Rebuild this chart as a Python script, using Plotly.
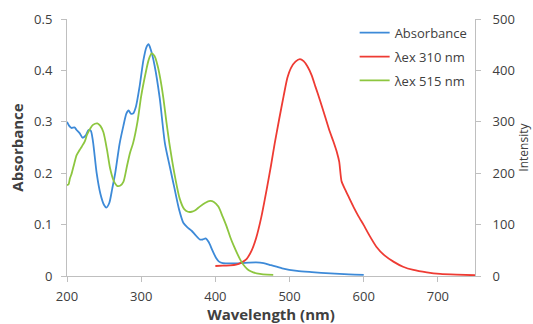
import plotly.graph_objects as go

# Absorbance (left axis)
abs_nm = [200, 203, 206, 210, 213, 217, 221, 225, 229, 232, 235, 240, 245, 250, 253, 257, 261, 265,
          271, 276, 280, 283, 286, 289, 293, 298, 303, 307, 310, 313, 318, 325, 332, 339, 345, 351,
          357, 362, 368, 373, 379, 383, 387, 391, 396, 401, 405, 410, 415, 425, 435, 445, 455, 465,
          475, 490, 510, 530, 555, 580, 600]
abs_val = [0.300, 0.292, 0.288, 0.289, 0.284, 0.278, 0.269, 0.273, 0.284, 0.283, 0.262, 0.200,
           0.160, 0.138, 0.133, 0.142, 0.170, 0.200, 0.258, 0.292, 0.316, 0.322, 0.316, 0.316,
           0.330, 0.370, 0.420, 0.445, 0.451, 0.440, 0.410, 0.346, 0.258, 0.210, 0.170, 0.130,
           0.103, 0.095, 0.088, 0.080, 0.071, 0.071, 0.073, 0.066, 0.050, 0.035, 0.028, 0.025,
           0.0245, 0.0245, 0.025, 0.026, 0.0265, 0.025, 0.021, 0.015, 0.010, 0.0075, 0.005,
           0.003, 0.002]

# Emission, λex 310 nm (right axis)
em310_nm = [400, 410, 420, 428, 435, 442, 449, 455, 462, 469, 475, 480, 486, 492, 497, 502, 508,
            514, 519, 524, 530, 535, 541, 548, 554, 559, 564, 567, 570, 575, 580, 586, 593, 600,
            608, 617, 628, 640, 653, 667, 685, 703, 725, 750]
em310_val = [19.5, 20, 20.5, 22, 26, 33, 50, 74, 115, 167, 215, 258, 305, 350, 385, 405, 417,
             422, 418, 408, 390, 368, 342, 310, 282, 262, 240, 222, 185, 168, 153, 135, 116, 99,
             78, 57, 40, 28, 18, 11.7, 7, 4, 2.5, 1.5]

# Emission, λex 515 nm (right axis)
em515_nm = [200, 202, 204, 206, 210, 213, 217, 220, 224, 227, 231, 235, 241, 245, 249, 254, 258,
            263, 268, 272, 276, 281, 285, 289, 295, 300, 306, 310, 314, 318, 322, 326, 330, 334,
            338, 342, 346, 352, 358, 363, 368, 373, 379, 386, 393, 398, 404, 410, 415, 420, 425,
            430, 435, 440, 445, 451, 460, 470, 478]
em515_val = [177, 178, 190, 198, 220, 235, 245, 252, 262, 275, 286, 294, 297, 292, 280, 245, 210,
             185, 175, 176, 183, 215, 240, 258, 300, 350, 395, 420, 433, 428, 410, 382, 345, 300,
             258, 222, 190, 150, 130, 125, 125, 128, 135, 142, 146, 144, 135, 115, 97, 76, 58,
             42, 28, 18, 11, 7, 4, 2.5, 2]

x_ticks = [200, 300, 400, 500, 600, 700]
y_ticks = [0, 0.1, 0.2, 0.3, 0.4, 0.5]
y2_ticks = [0, 100, 200, 300, 400, 500]
y_tick_text = ["0", "0.1", "0.2", "0.3", "0.4", "0.5"]

BLUE = "#3d8ad8"
RED = "#ee3b33"
GREEN = "#8dc63f"
FONT = "Open Sans"
TXT = "#404040"
AX = "#bfbfbf"

fig = go.Figure()
fig.add_trace(go.Scatter(x=abs_nm, y=abs_val, name="Absorbance", mode="lines",
                         line=dict(color=BLUE, width=1.8, shape="spline", smoothing=0.7),
                         legendgroup="a"))
fig.add_trace(go.Scatter(x=em310_nm, y=em310_val, name="λex 310 nm", mode="lines", yaxis="y2",
                         line=dict(color=RED, width=1.8, shape="spline", smoothing=0.5),
                         legendgroup="b"))
fig.add_trace(go.Scatter(x=em515_nm, y=em515_val, name="λex 515 nm", mode="lines", yaxis="y2",
                         line=dict(color=GREEN, width=1.8, shape="spline", smoothing=0.7),
                         legendgroup="c"))

fig.update_layout(
    width=533, height=324,
    margin=dict(l=67, r=58, t=19, b=48, autoexpand=False),
    paper_bgcolor="white", plot_bgcolor="white",
    font=dict(family=FONT, size=13, color=TXT),
    showlegend=True,
    legend=dict(x=0.705, y=1.005, xanchor="left", yanchor="top", bgcolor="rgba(0,0,0,0)",
                font=dict(family=FONT, size=13, color=TXT), tracegroupgap=4,
                traceorder="grouped"),
    xaxis=dict(range=[200, 750], tickvals=x_ticks, showgrid=False, zeroline=False,
               showline=True, linecolor=AX, linewidth=1, ticks="outside", tickcolor=AX,
               ticklen=5, ticklabelstandoff=3, automargin=False,
               tickfont=dict(family=FONT, size=13, color=TXT),
               title=dict(text="<b>Wavelength (nm)</b>", standoff=1,
                          font=dict(family=FONT, size=15, color=TXT))),
    yaxis=dict(range=[0, 0.5], tickvals=y_ticks, ticktext=y_tick_text, showgrid=False,
               zeroline=False, showline=True, linecolor=AX, linewidth=1, ticks="outside",
               tickcolor=AX, ticklen=5, ticklabelstandoff=6, automargin=False,
               tickfont=dict(family=FONT, size=13, color=TXT),
               title=dict(text="<b>Absorbance</b>", standoff=6,
                          font=dict(family=FONT, size=15, color=TXT))),
    yaxis2=dict(range=[0, 500], tickvals=y2_ticks, overlaying="y", side="right",
                showgrid=False, zeroline=False, showline=True, linecolor=AX, linewidth=1,
                ticks="outside", tickcolor=AX, ticklen=5, ticklabelstandoff=9,
                automargin=False,
                tickfont=dict(family=FONT, size=13, color=TXT)),
    annotations=[dict(text="Intensity", xref="paper", yref="paper", x=1.118, y=0.5,
                      xanchor="center", yanchor="middle", textangle=-90, showarrow=False,
                      font=dict(family=FONT, size=12, color=TXT))],
)

fig.write_html("out.html", config={"displayModeBar": False},
               post_script="document.body.style.margin='0';")
